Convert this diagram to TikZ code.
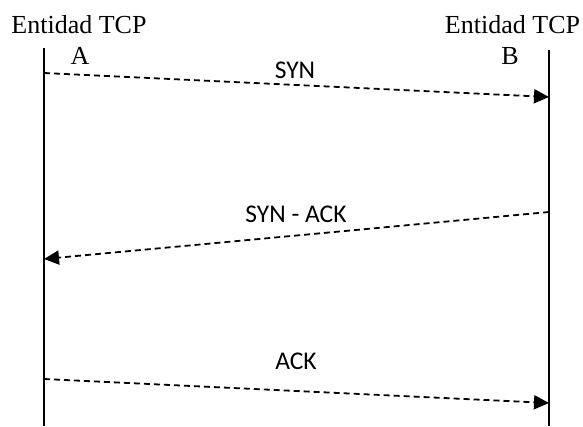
\documentclass[tikz,border=0pt]{standalone}
\usepackage{fontspec}
\setmainfont{Liberation Serif}
\newfontfamily\calib{Carlito}
\usetikzlibrary{arrows.meta}
\begin{document}
\begin{tikzpicture}[x=1pt,y=-1pt,
  life/.style={line width=1.8pt},
  msg/.style={line width=1.8pt,dash pattern=on 6pt off 4pt,-{Triangle[length=15pt,width=14pt]}},
  ent/.style={anchor=base,inner sep=0pt,font=\fontsize{26}{30}\selectfont},
  lbl/.style={anchor=base,inner sep=0pt,font=\calib\fontsize{25.5}{30}\selectfont}]
\useasboundingbox (0,0) rectangle (583,426);
\coordinate (aTop) at (44,48);
\coordinate (aBot) at (44,426);
\coordinate (bTop) at (549,50);
\coordinate (bBot) at (549,426);
\draw[life] (aTop) -- (aBot);
\draw[life] (bTop) -- (bBot);
\node[ent] (entA) at (79,33) {Entidad TCP};
\node[ent] (entB) at (512.5,33) {Entidad TCP};
\node[ent] (la) at (80,64) {A};
\node[ent] (lb) at (510,64) {B};
\coordinate (s1) at (44,73);
\coordinate (e1) at (549,97);
\coordinate (s2) at (549,212);
\coordinate (e2) at (44,259);
\coordinate (s3) at (44,379);
\coordinate (e3) at (549,403);
\draw[msg] (s1) -- (e1);
\draw[msg] (s2) -- (e2);
\draw[msg] (s3) -- (e3);
\node[lbl] (syn) at (295,78) {SYN};
\node[lbl] (synack) at (296,222) {SYN - ACK};
\node[lbl] (ack) at (296,369) {ACK};
\end{tikzpicture}
\end{document}
